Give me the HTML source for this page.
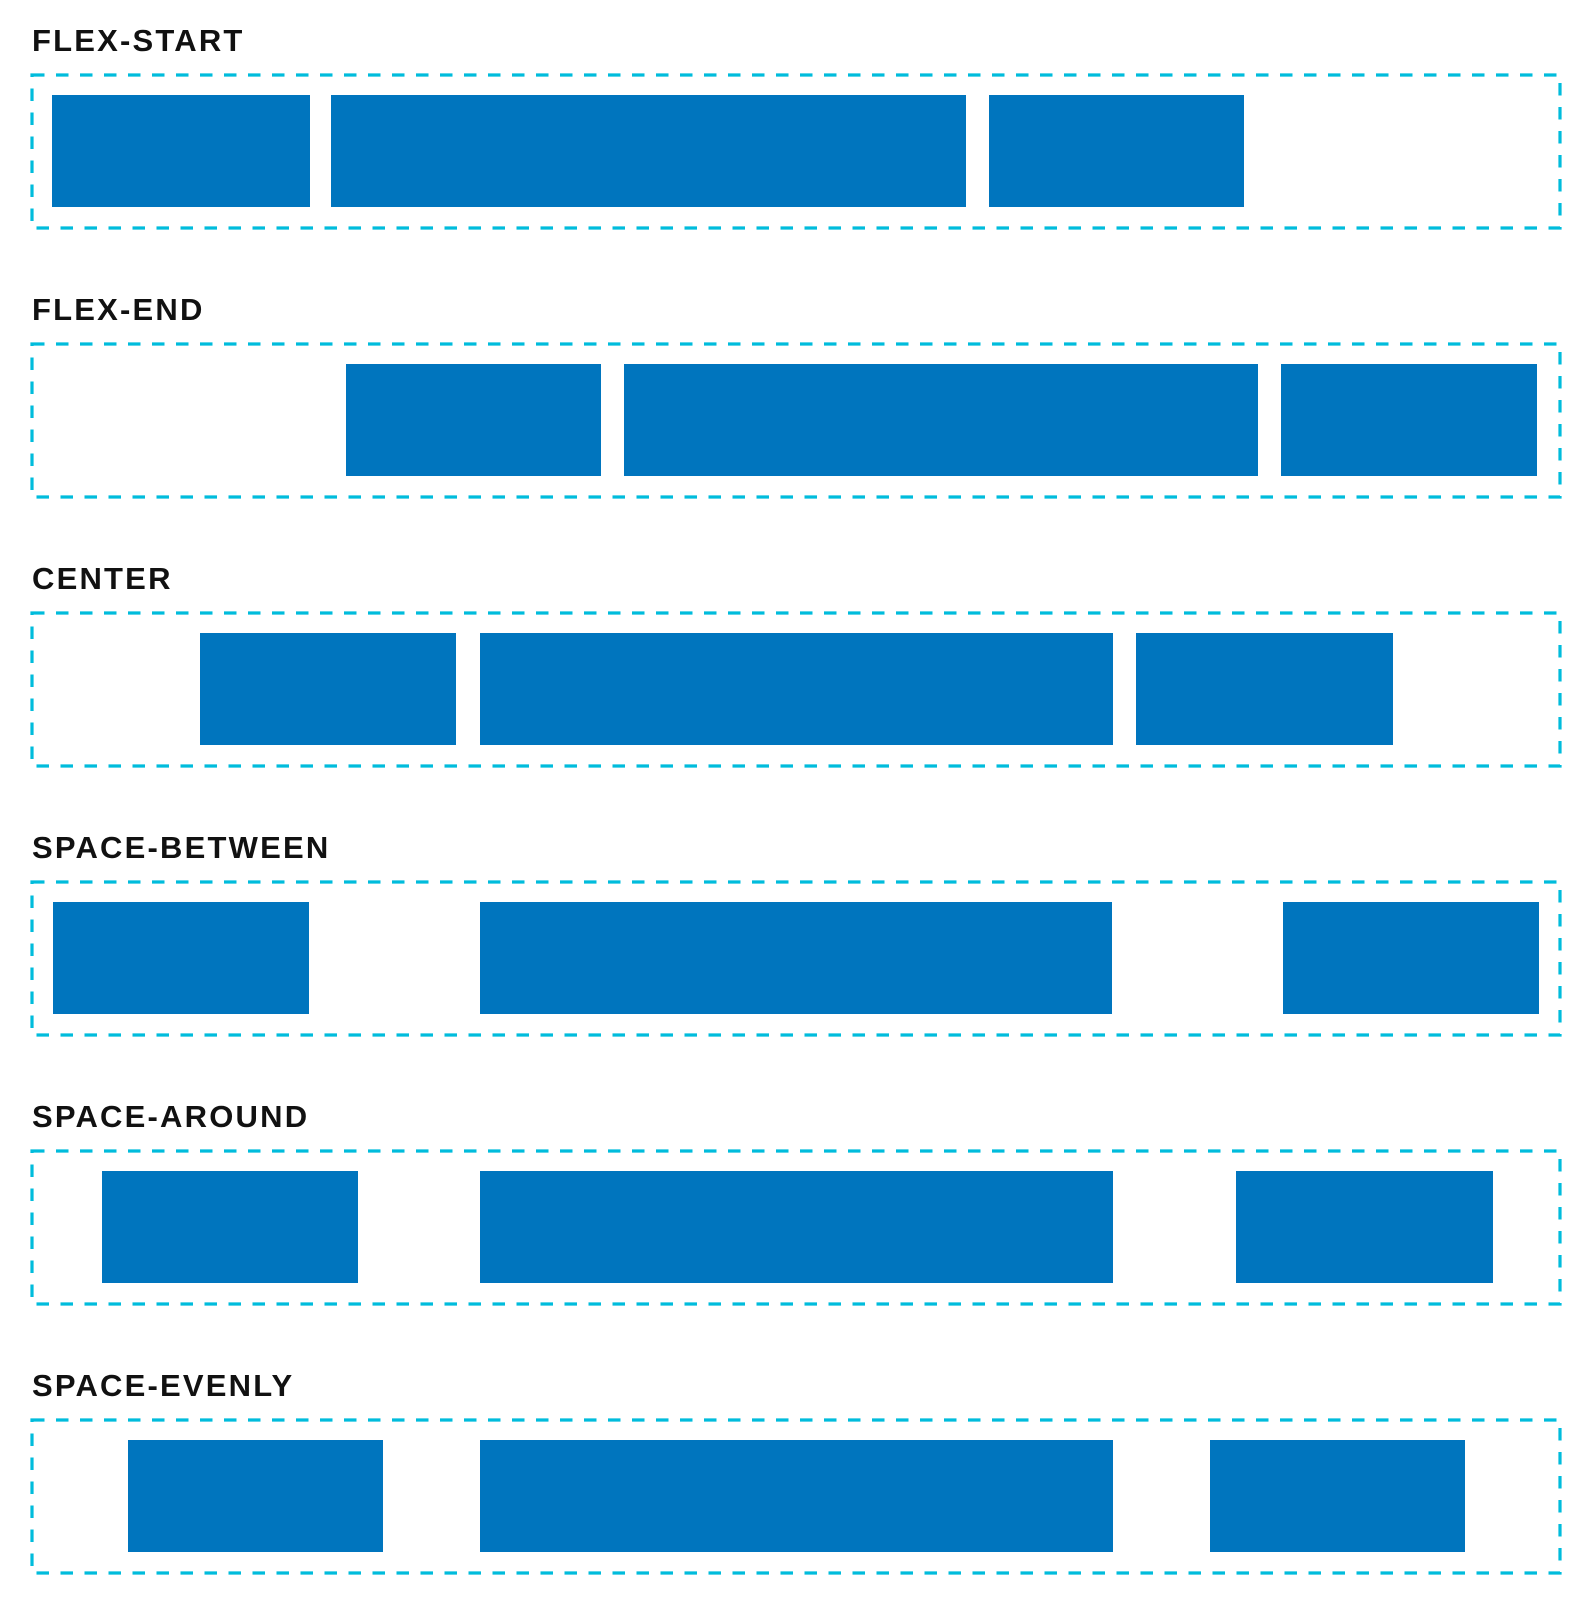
<!DOCTYPE html>
<html><head><meta charset="utf-8"><style>
html,body{margin:0;padding:0;background:#fff;}
body{width:1595px;height:1601px;position:relative;overflow:hidden;font-family:"Liberation Sans",sans-serif;}
.lbl{position:absolute;left:32px;font-weight:bold;font-size:31px;letter-spacing:2.2px;color:#111;line-height:1;}
.box{position:absolute;background:#0075be;}
svg{position:absolute;left:0;top:0;}
</style></head><body>
<svg id="borders" width="1595" height="1601"></svg>
<script>
const labels=["FLEX-START","FLEX-END","CENTER","SPACE-BETWEEN","SPACE-AROUND","SPACE-EVENLY"];
const starts=[[51,324,967],[338,610,1253],[196,469,1111],[52,469,1255],[100,469,1209],[125,469,1183]];
const ends=[[303,945,1217],[588,1230,1503],[446,1089,1362],[302,1088,1505],[350,1089,1460],[375,1089,1433]];
const S=1595/1560, PITCH=269;
const svg=document.getElementById('borders');
labels.forEach((t,i)=>{
  const y0=i*PITCH;
  const l=document.createElement('div');
  l.className='lbl';l.textContent=t;l.style.top=(y0+25)+'px';
  
  
  document.body.appendChild(l);
  const r=document.createElementNS('http://www.w3.org/2000/svg','rect');
  r.setAttribute('x',32);r.setAttribute('y',y0+75);r.setAttribute('width',1528);r.setAttribute('height',153);
  r.setAttribute('fill','none');r.setAttribute('stroke','#00bcdc');r.setAttribute('stroke-width','3.2');
  r.setAttribute('stroke-dasharray','12.5 11.5');
  
  
  svg.appendChild(r);
  starts[i].forEach((s,j)=>{
    const b=document.createElement('div');
    b.className='box';
    b.style.left=(s*S)+'px';
    b.style.width=((ends[i][j]-s)*S)+'px';
    b.style.top=(y0+95)+'px';
    b.style.height='112px';
    
    
    document.body.appendChild(b);
  });
});
</script>
</body></html>
